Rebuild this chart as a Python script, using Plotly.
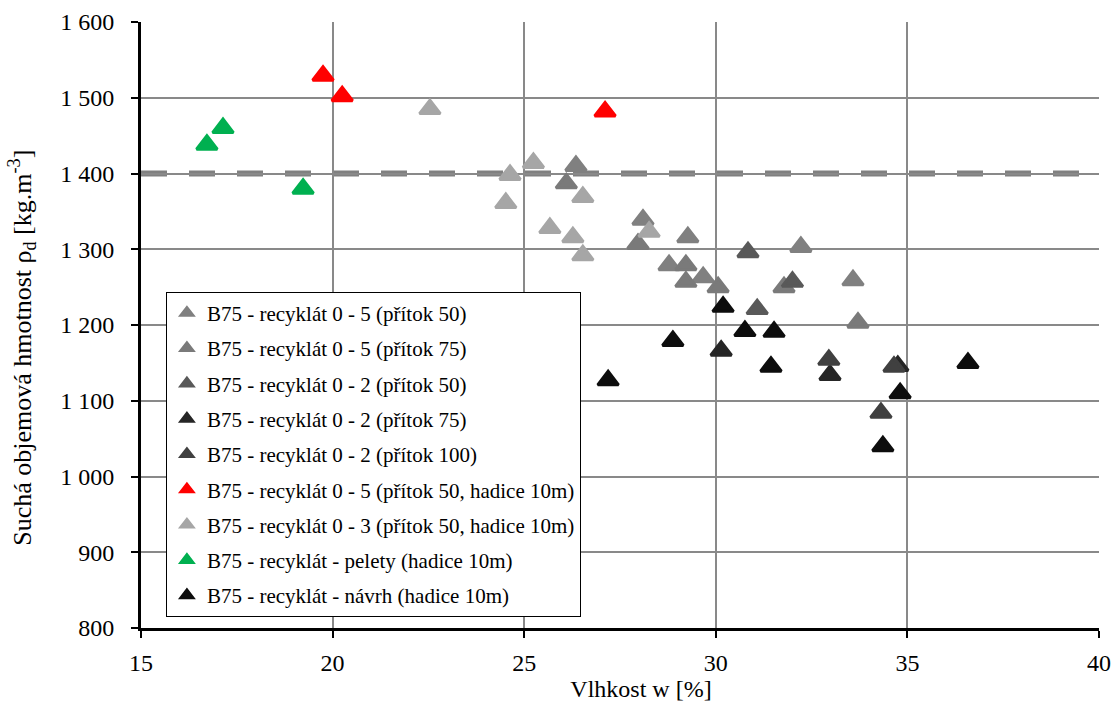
import plotly.graph_objects as go

# ---- data ----
series_names = [
    "B75 - recyklát 0 - 5 (přítok 50)",
    "B75 - recyklát 0 - 5 (přítok 75)",
    "B75 - recyklát 0 - 2 (přítok 50)",
    "B75 - recyklát 0 - 2 (přítok 75)",
    "B75 - recyklát 0 - 2 (přítok 100)",
    "B75 - recyklát 0 - 5 (přítok 50, hadice 10m)",
    "B75 - recyklát 0 - 3 (přítok 50, hadice 10m)",
    "B75 - recyklát - pelety (hadice 10m)",
    "B75 - recyklát - návrh (hadice 10m)",
]
series_colors = ["#808080", "#7A7A7A", "#595959", "#262626", "#404040",
                 "#FF0000", "#A6A6A6", "#00B050", "#0D0D0D"]

s1_w = [26.35, 28.10, 29.27, 28.78, 29.67, 32.22, 33.58]
s1_rho = [1410, 1339, 1316, 1279, 1263, 1303, 1259]
s2_w = [26.10, 27.97, 29.22, 29.22, 30.06, 31.78, 33.71]
s2_rho = [1387, 1307, 1279, 1257, 1250, 1250, 1203]
s3_w = [30.84, 32.00, 31.08]
s3_rho = [1296, 1257, 1221]
s4_w = [30.14, 32.98, 34.75]
s4_rho = [1166, 1134, 1146]
s5_w = [32.95, 34.65, 34.31]
s5_rho = [1154, 1145, 1084]
s6_w = [19.75, 20.25, 27.11]
s6_rho = [1529, 1502, 1482]
s7_w = [22.54, 25.24, 24.63, 24.52, 25.67, 26.27, 26.53, 26.53, 28.26]
s7_rho = [1485, 1414, 1398, 1361, 1328, 1316, 1369, 1292, 1323]
s8_w = [16.72, 17.14, 19.23]
s8_rho = [1438, 1460, 1380]
s9_w = [27.19, 28.88, 30.19, 30.76, 31.52, 31.44, 34.81, 34.36, 36.58]
s9_rho = [1127, 1179, 1224, 1192, 1191, 1145, 1110, 1040, 1150]

series_w = [s1_w, s2_w, s3_w, s4_w, s5_w, s6_w, s7_w, s8_w, s9_w]
series_rho = [s1_rho, s2_rho, s3_rho, s4_rho, s5_rho, s6_rho, s7_rho, s8_rho, s9_rho]

limit_rho = 1400

x_ticks = [15, 20, 25, 30, 35, 40]
x_ticktext = ["15", "20", "25", "30", "35", "40"]
y_ticks = [800, 900, 1000, 1100, 1200, 1300, 1400, 1500, 1600]
y_ticktext = ["800", "900", "1 000", "1 100", "1 200", "1 300", "1 400", "1 500", "1 600"]

FONT = "Liberation Serif"
NB = "&nbsp;"

fig = go.Figure()
for i, (name, col, xs, ys) in enumerate(zip(series_names, series_colors, series_w, series_rho)):
    fig.add_trace(go.Scatter(
        x=xs, y=ys, mode="markers", name=name,
        legendgroup=f"g{i}",
        marker=dict(symbol="triangle-up", size=18, color=col,
                    line=dict(color=col, width=3)),
        cliponaxis=False,
    ))

fig.add_shape(type="line", xref="x", yref="y", x0=x_ticks[0], x1=x_ticks[-1],
              y0=limit_rho, y1=limit_rho, layer="below",
              line=dict(color="#808080", width=6, dash="26px,22px"))

fig.update_layout(
    width=1114, height=706, autosize=False,
    margin=dict(l=141, r=15, t=22, b=78, autoexpand=False),
    paper_bgcolor="white", plot_bgcolor="white",
    font=dict(family=FONT, size=24, color="black"),
    showlegend=True,
    legend=dict(x=0.026, y=0.555, xanchor="left", yanchor="top",
                bgcolor="white", bordercolor="black", borderwidth=1,
                font=dict(family=FONT, size=21, color="black"),
                traceorder="grouped", tracegroupgap=5,
                itemsizing="constant"),
    xaxis=dict(range=[15, 40], tickvals=x_ticks, ticktext=x_ticktext,
               showgrid=True, gridcolor="#898989", gridwidth=2,
               showline=True, linecolor="black", linewidth=3,
               ticks="outside", ticklen=7, tickwidth=2, tickcolor="black",
               zeroline=False, ticklabelstandoff=4, automargin=False,
               tickfont=dict(family=FONT, size=24, color="black"),
               title=dict(text=NB * 7 + "Vlhkost w [%]", standoff=6,
                          font=dict(family=FONT, size=24, color="black"))),
    yaxis=dict(range=[800, 1600], tickvals=y_ticks, ticktext=y_ticktext,
               showgrid=True, gridcolor="#898989", gridwidth=2,
               showline=True, linecolor="black", linewidth=3,
               ticks="outside", ticklen=7, tickwidth=2, tickcolor="black",
               zeroline=False, ticklabelstandoff=12, automargin=False,
               tickfont=dict(family=FONT, size=24, color="black"),
               title=dict(text="Suchá objemová hmotnost ρ<sub>d</sub> [kg.m<sup>-3</sup>]" + NB * 7,
                          standoff=22,
                          font=dict(family=FONT, size=26, color="black"))),
)

fig.write_html("out.html")
